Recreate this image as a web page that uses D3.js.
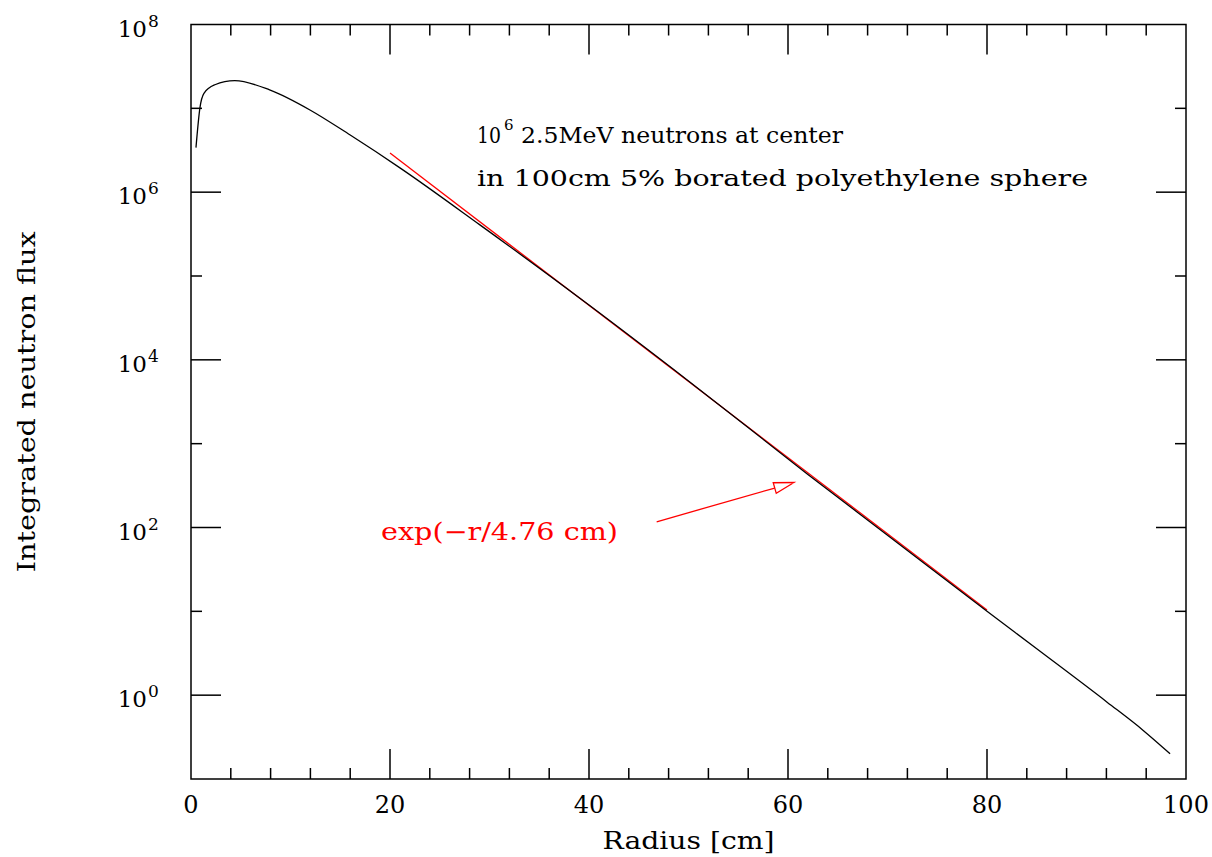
<!DOCTYPE html>
<html>
<head>
<meta charset="utf-8">
<script src="https://cdn.jsdelivr.net/npm/d3@7"></script>
<style>
  body { margin: 0; background: #fff; }
  text { font-family: "DejaVu Serif", serif; }
</style>
</head>
<body>
<div id="chart"></div>
<script>
// flux curve
var radius = [0.5, 0.9, 1.3, 2.4, 4.4, 7.9, 12, 16, 21, 29, 40, 50, 62, 70, 80, 85.1, 92.1, 95.7, 98.4];
var flux = [3.4e6, 1.02e7, 1.51e7, 1.91e7, 2.14e7, 1.66e7, 9.5e6, 4.8e6, 1.95e6, 4.1e5, 4.5e4, 5.6e3, 430, 81, 10, 3.5, 0.82, 0.38, 0.20];

// exponential fit line
var fitRadius = [20, 80];
var fitFlux = [2.93e6, 10.4];

// arrow of the fit label
var arrowRadius = [46.8, 60.6];
var arrowFlux = [117, 344];

var xTicks = [0, 20, 40, 60, 80, 100];
var yExponents = [0, 2, 4, 6, 8];

var margin = {top: 24.5, right: 26, bottom: 78, left: 191},
    width = 1212 - margin.left - margin.right,
    height = 857 - margin.top - margin.bottom;

var svg = d3.select("#chart")
  .append("svg")
  .attr("width", 1212)
  .attr("height", 857)
  .append("g")
  .attr("transform", "translate(" + margin.left + "," + margin.top + ")");

var x = d3.scaleLinear().domain([0, 100]).range([0, width]);
var y = d3.scaleLog().domain([1e-1, 1e8]).range([height, 0]);

// frame
svg.append("rect")
  .attr("width", width).attr("height", height)
  .attr("fill", "none").attr("stroke", "#000").attr("stroke-width", 1.5);

// x ticks, bottom and top
var xMinor = d3.range(0, 101, 4).filter(function(d) { return d % 20 != 0; });
var tickData = xTicks.slice(1, -1).map(function(d) { return {v: d, len: 30}; })
  .concat(xMinor.map(function(d) { return {v: d, len: 11}; }));
tickData.forEach(function(t) {
  svg.append("line").attr("x1", x(t.v)).attr("x2", x(t.v))
    .attr("y1", height).attr("y2", height - t.len)
    .attr("stroke", "#000").attr("stroke-width", 1.5);
  svg.append("line").attr("x1", x(t.v)).attr("x2", x(t.v))
    .attr("y1", 0).attr("y2", t.len)
    .attr("stroke", "#000").attr("stroke-width", 1.5);
});

// y ticks, left and right
d3.range(0, 8).forEach(function(e) {
  var len = (e % 2 == 0) ? 30 : 11;
  var yy = y(Math.pow(10, e));
  svg.append("line").attr("x1", 0).attr("x2", len).attr("y1", yy).attr("y2", yy)
    .attr("stroke", "#000").attr("stroke-width", 1.5);
  svg.append("line").attr("x1", width).attr("x2", width - len).attr("y1", yy).attr("y2", yy)
    .attr("stroke", "#000").attr("stroke-width", 1.5);
});

// x tick labels
svg.selectAll(".xlab").data(xTicks).enter()
  .append("text")
  .attr("x", function(d) { return x(d); })
  .attr("y", height + 34)
  .attr("text-anchor", "middle")
  .attr("font-size", "24px")
  .text(function(d) { return d; });

// y tick labels 10^n
yExponents.forEach(function(e) {
  var yy = y(Math.pow(10, e));
  svg.append("text")
    .attr("x", -44).attr("y", yy + 12)
    .attr("text-anchor", "end")
    .attr("font-size", "23px")
    .text("10");
  svg.append("text")
    .attr("x", -43).attr("y", yy + 2)
    .attr("font-size", "17px")
    .text(e);
});

// axis titles
svg.append("text")
  .attr("x", width / 2).attr("y", height + 70)
  .attr("text-anchor", "middle")
  .attr("font-size", "24px")
  .attr("textLength", 172).attr("lengthAdjust", "spacingAndGlyphs")
  .text("Radius [cm]");

svg.append("text")
  .attr("transform", "translate(" + (35 - margin.left) + "," + (height / 2) + ") rotate(-90)")
  .attr("text-anchor", "middle")
  .attr("font-size", "24px")
  .attr("textLength", 341).attr("lengthAdjust", "spacingAndGlyphs")
  .text("Integrated neutron flux");

// curves
var line = d3.line()
  .x(function(d) { return x(d[0]); })
  .y(function(d) { return y(d[1]); })
  .curve(d3.curveMonotoneX);

svg.append("path")
  .datum(d3.zip(fitRadius, fitFlux))
  .attr("d", line)
  .attr("fill", "none").attr("stroke", "#ff0000").attr("stroke-width", 1.3);

svg.append("path")
  .datum(d3.zip(radius, flux))
  .attr("d", line)
  .attr("fill", "none").attr("stroke", "#000").attr("stroke-width", 1.3);

// fit annotation
var ax0 = x(arrowRadius[0]), ay0 = y(arrowFlux[0]),
    ax1 = x(arrowRadius[1]), ay1 = y(arrowFlux[1]);
var ang = Math.atan2(ay1 - ay0, ax1 - ax0);
var hl = 20, hw = 5.5;
var bx = ax1 - hl * Math.cos(ang), by = ay1 - hl * Math.sin(ang);
svg.append("line")
  .attr("x1", ax0).attr("y1", ay0).attr("x2", bx).attr("y2", by)
  .attr("stroke", "#ff0000").attr("stroke-width", 1.3);
svg.append("path")
  .attr("d", "M" + ax1 + "," + ay1 +
    "L" + (bx - hw * Math.sin(ang)) + "," + (by + hw * Math.cos(ang)) +
    "L" + (bx + hw * Math.sin(ang)) + "," + (by - hw * Math.cos(ang)) + "Z")
  .attr("fill", "none").attr("stroke", "#ff0000").attr("stroke-width", 1.3);

svg.append("text")
  .attr("x", 381 - margin.left).attr("y", 540 - margin.top)
  .attr("fill", "#ff0000")
  .attr("font-size", "24px")
  .attr("textLength", 237).attr("lengthAdjust", "spacingAndGlyphs")
  .text("exp(\u2212r/4.76 cm)");

// description
svg.append("text")
  .attr("x", 477 - margin.left).attr("y", 143 - margin.top)
  .attr("font-size", "23px")
  .attr("textLength", 24).attr("lengthAdjust", "spacingAndGlyphs")
  .text("10");
svg.append("text")
  .attr("x", 504 - margin.left).attr("y", 130 - margin.top)
  .attr("font-size", "15px")
  .text("6");
svg.append("text")
  .attr("x", 521 - margin.left).attr("y", 143 - margin.top)
  .attr("font-size", "23px")
  .attr("textLength", 322).attr("lengthAdjust", "spacingAndGlyphs")
  .text("2.5MeV neutrons at center");
svg.append("text")
  .attr("x", 477 - margin.left).attr("y", 186 - margin.top)
  .attr("font-size", "23px")
  .attr("textLength", 611).attr("lengthAdjust", "spacingAndGlyphs")
  .text("in 100cm 5% borated polyethylene sphere");
</script>
</body>
</html>
